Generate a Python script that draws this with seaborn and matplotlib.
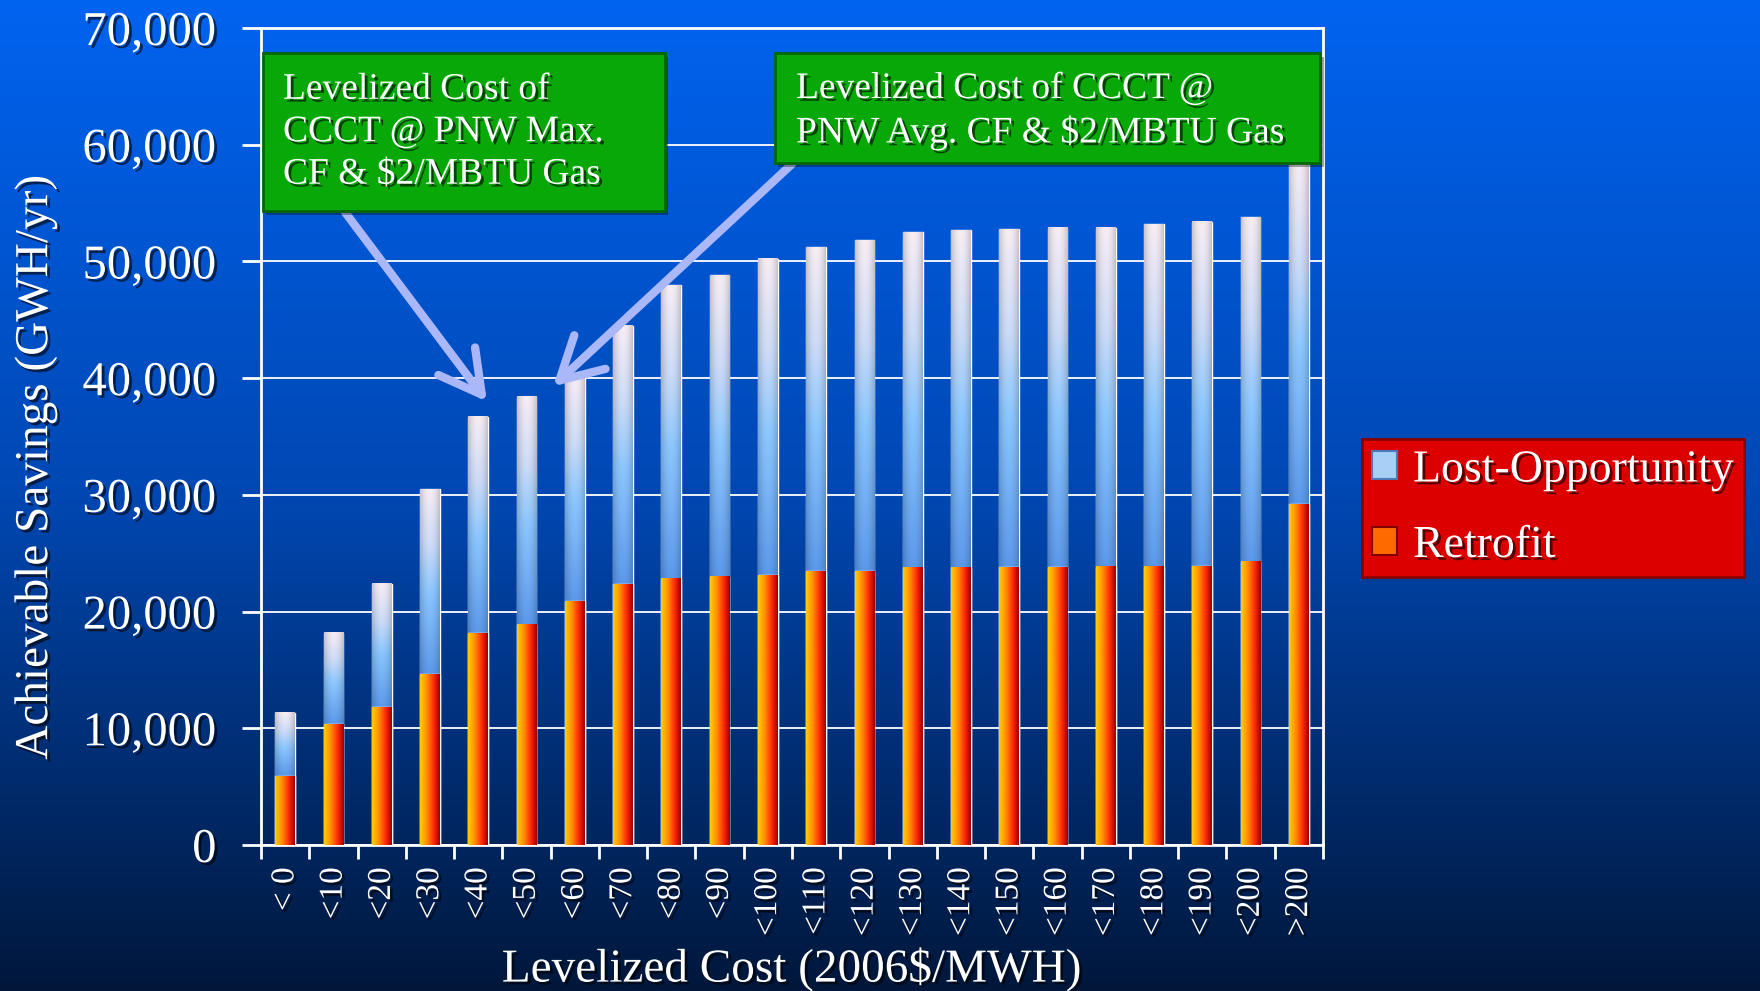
import numpy as np
import pandas as pd
import matplotlib
matplotlib.use("Agg")
import matplotlib.pyplot as plt
import matplotlib.patheffects as pe
from matplotlib.patches import Rectangle, Patch
import seaborn as sns

# data (GWH/yr)
categories = ["< 0", "<10", "<20", "<30", "<40", "<50", "<60", "<70", "<80", "<90", "<100",
              "<110", "<120", "<130", "<140", "<150", "<160", "<170", "<180", "<190", "<200", ">200"]
retrofit = [5900, 10350, 11800, 14650, 18150, 18850, 20900, 22350, 22800, 23000, 23100,
            23450, 23450, 23750, 23750, 23800, 23800, 23850, 23850, 23900, 24250, 29200]
lost_opportunity = [5450, 7800, 10600, 15850, 18550, 19550, 19400, 22150, 25150, 25800, 27150,
                    27750, 28350, 28750, 28950, 28950, 29050, 29050, 29350, 29500, 29550, 29800]
y_ticks = [0, 10000, 20000, 30000, 40000, 50000, 60000, 70000]

df = pd.DataFrame({"cost": categories, "Retrofit": retrofit, "Lost-Opportunity": lost_opportunity})
df["total"] = df["Retrofit"] + df["Lost-Opportunity"]

sns.set_style("ticks")
plt.rcParams["font.family"] = ["Liberation Serif", "DejaVu Serif"]
shadow = [pe.withSimplePatchShadow(offset=(2, -2), shadow_rgbFace="black", alpha=0.6)]

fig = plt.figure(figsize=(17.6, 9.91), dpi=100)

# blue background gradient
bg = fig.add_axes([0, 0, 1, 1], zorder=-10)
stops = np.array([[0.0, 0.39, 0.94], [0.0, 0.28, 0.70], [0.0, 0.09, 0.23]])
t = np.linspace(0, 1, 400)
grad = np.stack([np.interp(t, [0, 0.5, 1], stops[:, c]) for c in range(3)], axis=1)
bg.imshow(grad[:, None, :], aspect="auto", extent=[0, 1, 0, 1])
bg.axis("off")

ax = fig.add_axes([0.1483, 0.1473, 0.6034, 0.8244])
ax.set_facecolor("none")

# stacked bars: total first, retrofit drawn on top
sns.barplot(data=df, x="cost", y="total", order=categories, color="#8ec6ff", width=0.41,
            saturation=1, ax=ax, zorder=2, label="Lost-Opportunity")
n = len(categories)
sns.barplot(data=df, x="cost", y="Retrofit", order=categories, color="#ff5a00", width=0.41,
            saturation=1, ax=ax, zorder=3, label="Retrofit")
lost_bars = ax.patches[:n]
retro_bars = ax.patches[n:]

# gradient fills for the bars
nx = 40
xs = np.linspace(0, 1, nx)
edge = 1 - 0.18 * np.abs(xs - 0.5) ** 2 * 4
ys = np.linspace(0, 1, 100)
lo_stops = np.array([[0.36, 0.60, 0.92], [0.55, 0.78, 1.0], [0.80, 0.86, 0.97], [0.97, 0.93, 0.96]])
lo_col = np.stack([np.interp(ys, [0, 0.45, 0.7, 1], lo_stops[:, c]) for c in range(3)], axis=1)
lo_img = np.clip(lo_col[:, None, :] * edge[None, :, None], 0, 1)
re_stops = np.array([[1.0, 0.80, 0.0], [1.0, 0.55, 0.0], [1.0, 0.16, 0.0], [0.62, 0.0, 0.0]])
re_col = np.stack([np.interp(xs, [0, 0.35, 0.7, 1], re_stops[:, c]) for c in range(3)], axis=1)
re_img = re_col[None, :, :]

for lb, rb in zip(lost_bars, retro_bars):
    x, w = lb.get_x(), lb.get_width()
    ax.imshow(lo_img, extent=[x, x + w, rb.get_height(), lb.get_height()], origin="lower",
              aspect="auto", zorder=2.1, interpolation="bilinear")
    ax.imshow(re_img, extent=[x, x + w, 0, rb.get_height()], origin="lower",
              aspect="auto", zorder=3.1, interpolation="bilinear")

ax.set_xlim(-0.5, n - 0.5)
ax.set_ylim(0, 70000)
ax.set_yticks(y_ticks)
ax.set_yticklabels([f"{v:,}" for v in y_ticks])
ax.set_xticks(range(n))
ax.set_xticklabels(categories, rotation=90)
ax.set_xticks(np.arange(-0.5, n, 1), minor=True)
ax.yaxis.grid(True, color="white", lw=1.3, zorder=1)
ax.set_axisbelow(True)

for s in ax.spines.values():
    s.set_visible(True)
    s.set_color("white")
    s.set_linewidth(2)
ax.tick_params(axis="y", colors="white", labelsize=35, length=14, width=2, pad=18)
ax.tick_params(axis="x", which="major", colors="white", labelsize=24, length=0, pad=16)
ax.tick_params(axis="x", which="minor", colors="white", length=10, width=2)
for lab in ax.get_xticklabels() + ax.get_yticklabels():
    lab.set_path_effects(shadow)

ax.set_xlabel("Levelized Cost (2006$/MWH)", color="white", fontsize=34, path_effects=shadow)
ax.set_ylabel("Achievable Savings (GWH/yr)", color="white", fontsize=34, path_effects=shadow)
ax.xaxis.set_label_coords(0.5, -0.125)
ax.yaxis.set_label_coords(-0.192, 0.463)

# legend in red box
handles = [Patch(facecolor="#a8cff5", edgecolor="#4a78b8", lw=1.5),
           Patch(facecolor="#ff6a00", edgecolor="#800000", lw=1.5)]
leg = ax.legend(handles, ["Lost-Opportunity", "Retrofit"], loc="center",
                bbox_to_anchor=(1553 / 1760, 1 - 508 / 991), bbox_transform=fig.transFigure,
                fontsize=33, frameon=True, fancybox=False, framealpha=1,
                handlelength=0.55, handleheight=0.55, handletextpad=0.35,
                borderpad=0.22, labelspacing=0.72)
leg.get_frame().set_facecolor("#dc0000")
leg.get_frame().set_edgecolor("#8a0000")
leg.get_frame().set_linewidth(2)
for txt in leg.get_texts():
    txt.set_color("white")
    txt.set_path_effects(shadow)

# green callout boxes
for (x0, y0, w, h) in [(0.1494, 0.7871, 0.2284, 0.1594), (0.4403, 0.8355, 0.3097, 0.1110)]:
    fig.add_artist(Rectangle((x0 + 0.002, y0 - 0.004), w, h, transform=fig.transFigure,
                             facecolor="black", alpha=0.35, lw=0, zorder=4))
    fig.add_artist(Rectangle((x0, y0), w, h, transform=fig.transFigure,
                             facecolor="#08a808", edgecolor="#056605", lw=2, zorder=5))
fig.text(0.1608, 0.8668, "Levelized Cost of\nCCCT @ PNW Max.\nCF & $2/MBTU Gas",
         color="white", fontsize=27, ha="left", va="center", linespacing=1.3,
         zorder=6, path_effects=shadow)
fig.text(0.4523, 0.888, "Levelized Cost of CCCT @\nPNW Avg. CF & $2/MBTU Gas",
         color="white", fontsize=27, ha="left", va="center", linespacing=1.3,
         zorder=6, path_effects=shadow)

# arrows from the callouts to the bars
arrow = dict(arrowstyle="->,head_length=1.0,head_width=0.55", color="#aab8fa", lw=6,
             mutation_scale=30, shrinkA=0, shrinkB=0)
ax.annotate("", xy=(4.18, 38000), xycoords="data", xytext=(0.196, 0.786),
            textcoords="figure fraction", arrowprops=arrow, zorder=7)
ax.annotate("", xy=(5.55, 39300), xycoords="data", xytext=(0.45, 0.8345),
            textcoords="figure fraction", arrowprops=arrow, zorder=7)

plt.savefig("out.png", dpi=100)
